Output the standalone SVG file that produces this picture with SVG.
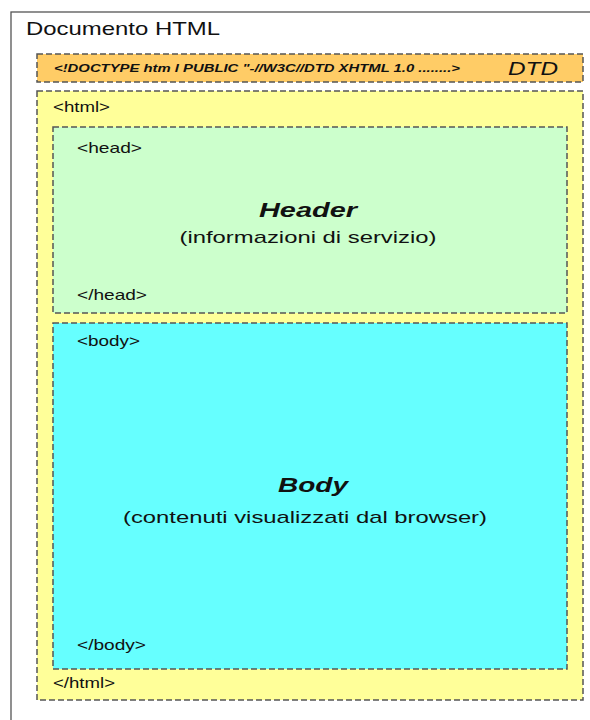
<svg xmlns="http://www.w3.org/2000/svg" width="590" height="720" viewBox="0 0 590 720">
<style>
.box{stroke:#555;stroke-width:1.5;stroke-dasharray:6,3}
.t{font-family:"Liberation Sans",Arial,sans-serif;fill:#111}
.tag{font-size:15px}
</style>
<rect width="590" height="720" fill="#fff"/>
<g id="documento">
<rect x="11" y="12" width="600" height="720" fill="#fff" stroke="#555" stroke-width="1.3"/>
<text class="t" x="26" y="35" font-size="19" textLength="194" lengthAdjust="spacingAndGlyphs">Documento HTML</text>
</g>
<g id="dtd">
<rect class="box" x="37" y="54" width="546" height="28" fill="#FFCC66"/>
<text class="t" x="54" y="72" font-size="11" font-style="italic" font-weight="bold" textLength="406" lengthAdjust="spacingAndGlyphs">&lt;!DOCTYPE htm l PUBLIC "-//W3C//DTD XHTML 1.0 ........&gt;</text>
<text class="t" x="508" y="75" font-size="18" font-style="italic" textLength="50" lengthAdjust="spacingAndGlyphs">DTD</text>
</g>
<g id="html">
<rect class="box" x="37" y="91" width="546" height="609" fill="#FFFF99"/>
<text class="t tag" x="53" y="112" textLength="57" lengthAdjust="spacingAndGlyphs">&lt;html&gt;</text>
<text class="t tag" x="53" y="688" textLength="62" lengthAdjust="spacingAndGlyphs">&lt;/html&gt;</text>
</g>
<g id="head">
<rect class="box" x="53" y="127" width="514" height="186" fill="#CCFFCC"/>
<text class="t tag" x="77" y="153" textLength="65" lengthAdjust="spacingAndGlyphs">&lt;head&gt;</text>
<text class="t" x="308" y="217" font-size="20" font-style="italic" font-weight="bold" text-anchor="middle" textLength="98" lengthAdjust="spacingAndGlyphs">Header</text>
<text class="t" x="308" y="243" font-size="17" text-anchor="middle" textLength="257" lengthAdjust="spacingAndGlyphs">(informazioni di servizio)</text>
<text class="t tag" x="77" y="300" textLength="70" lengthAdjust="spacingAndGlyphs">&lt;/head&gt;</text>
</g>
<g id="body">
<rect class="box" x="53" y="323" width="514" height="346" fill="#66FFFF"/>
<text class="t tag" x="77" y="346" textLength="63" lengthAdjust="spacingAndGlyphs">&lt;body&gt;</text>
<text class="t" x="313" y="492" font-size="20" font-style="italic" font-weight="bold" text-anchor="middle" textLength="70" lengthAdjust="spacingAndGlyphs">Body</text>
<text class="t" x="305" y="523" font-size="17" text-anchor="middle" textLength="364" lengthAdjust="spacingAndGlyphs">(contenuti visualizzati dal browser)</text>
<text class="t tag" x="77" y="650" textLength="69" lengthAdjust="spacingAndGlyphs">&lt;/body&gt;</text>
</g>
<g id="connectors"/>
</svg>
